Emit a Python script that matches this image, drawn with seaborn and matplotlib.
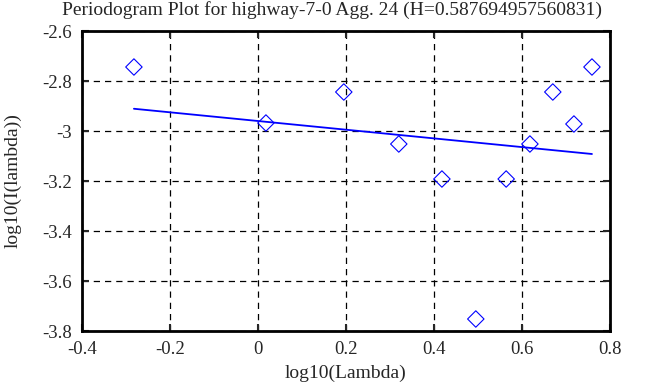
import matplotlib
matplotlib.use("Agg")
import matplotlib.pyplot as plt
import seaborn as sns
import pandas as pd

# periodogram points (log10 frequency vs log10 periodogram)
log_lambda = [-0.282, 0.018, 0.195, 0.320, 0.418, 0.495, 0.564, 0.618, 0.670, 0.718, 0.759]
log_I = [-2.744, -2.968, -2.844, -3.052, -3.192, -3.752, -3.192, -3.052, -2.844, -2.972, -2.744]

# fitted regression line endpoints
fit_x = [-0.282, 0.759]
fit_y = [-2.911, -3.092]

x_ticks = [-0.4, -0.2, 0, 0.2, 0.4, 0.6, 0.8]
y_ticks = [-3.8, -3.6, -3.4, -3.2, -3.0, -2.8, -2.6]

title = "Periodogram Plot for highway-7-0 Agg. 24 (H=0.587694957560831)"

sns.set_style("white")
plt.rcParams['font.family'] = ['Liberation Serif', 'DejaVu Serif']

pts = pd.DataFrame({'x': log_lambda, 'y': log_I})
fit = pd.DataFrame({'x': fit_x, 'y': fit_y})

fig = plt.figure(figsize=(6.63, 3.87), dpi=100)
ax = fig.add_axes([82 / 663, 1 - 331 / 387, 528 / 663, 300 / 387])

sns.lineplot(data=fit, x='x', y='y', ax=ax, color='#0000ff', linewidth=1.3)
sns.scatterplot(data=pts, x='x', y='y', ax=ax, marker='D', s=70,
                facecolor='none', edgecolor='#0000ff', linewidth=0.8, zorder=3)

ax.set_xlim(-0.4, 0.8)
ax.set_ylim(-3.8, -2.6)
ax.set_xticks(x_ticks)
ax.set_yticks(y_ticks)
ax.set_xticklabels(['-0.4', '-0.2', '0', '0.2', '0.4', '0.6', '0.8'])
ax.set_yticklabels(['-3.8', '-3.6', '-3.4', '-3.2', '-3', '-2.8', '-2.6'])
ax.tick_params(direction='in', length=5, width=1.5, labelsize=13.5,
               top=True, right=True, bottom=True, left=True, pad=7)
ax.grid(True, color='black', linestyle=(0, (5, 4)), linewidth=0.9)
for sp in ax.spines.values():
    sp.set_linewidth(2)
    sp.set_color('black')

ax.set_xlabel('log10(Lambda)', fontsize=14, labelpad=5)
ax.set_ylabel('log10(I(lambda))', fontsize=14, labelpad=15)
fig.text(0.5, 1 - 10 / 387, title, fontsize=14, ha='center', va='center')

fig.savefig('out.png', dpi=100)
